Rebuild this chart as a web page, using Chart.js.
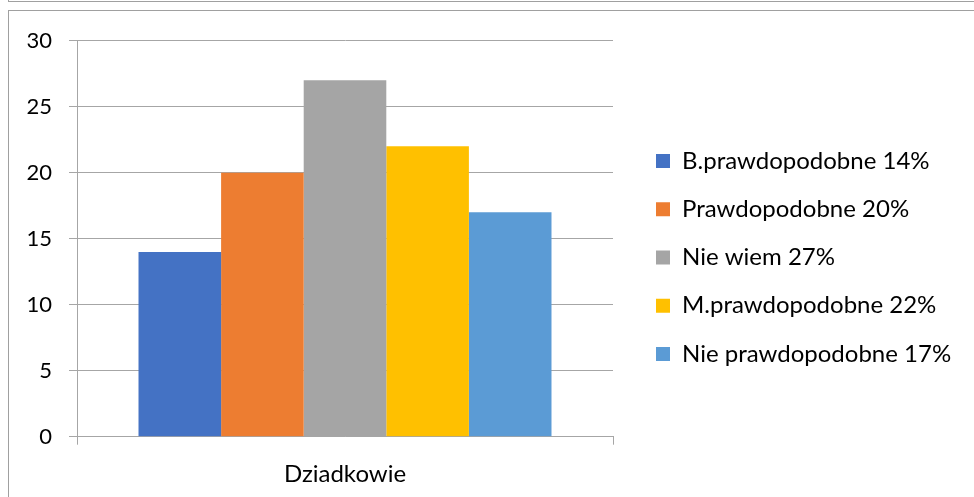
<!DOCTYPE html>
<html lang="pl">
<head>
<meta charset="utf-8">
<title>Dziadkowie</title>
<script src="https://cdn.jsdelivr.net/npm/chart.js@4"></script>
<style>
    html, body { margin: 0; padding: 0; background: #fff; overflow: hidden; }
    .frame-top { position: absolute; left: 8px; top: -20px; width: 1200px; height: 22px; border: 1px solid #a0a0a0; box-sizing: border-box; }
    .frame { position: absolute; left: 8px; top: 10px; width: 1200px; height: 800px; border: 1px solid #a0a0a0; box-sizing: border-box; }
    .chart-wrap { position: absolute; left: 0; top: 0; width: 974px; height: 497px; }
</style>
</head>
<body>
<div class="frame-top"></div>
<div class="frame"></div>
<div class="chart-wrap"><canvas id="chart"></canvas></div>

<script>
// --- data ---
const categories = ['Dziadkowie'];
const seriesLabels = ['B.prawdopodobne 14%', 'Prawdopodobne 20%', 'Nie wiem 27%', 'M.prawdopodobne 22%', 'Nie prawdopodobne 17%'];
const seriesValues = [14, 20, 27, 22, 17];
const seriesColors = ['#4472c4', '#ed7d31', '#a5a5a5', '#ffc000', '#5b9bd5'];
const yTicks = [0, 5, 10, 15, 20, 25, 30];

const gridColor = '#a6a6a6';

Chart.defaults.font.family = 'Lato, "Open Sans", sans-serif';
Chart.defaults.font.size = 22;
Chart.defaults.color = '#000';

// legend gets a fixed width so the plot area keeps its place
const fixedLegend = {
    id: 'fixedLegend',
    beforeLayout(chart) {
        const lg = chart.legend;
        if (lg && !lg._fixed) {
            const fit = lg.fit;
            lg.fit = function () {
                fit.call(this);
                this.width = 342.25;
            };
            lg._fixed = true;
        }
    }
};

new Chart(document.getElementById('chart'), {
    type: 'bar',
    data: {
        labels: categories,
        datasets: seriesLabels.map((label, i) => ({
            label: label,
            data: [seriesValues[i]],
            backgroundColor: seriesColors[i],
            borderWidth: 0,
            categoryPercentage: 0.7705,
            barPercentage: 1
        }))
    },
    options: {
        responsive: true,
        maintainAspectRatio: false,
        animation: false,
        layout: { padding: { top: 40.7, left: 0, right: 0, bottom: 0 } },
        plugins: {
            tooltip: { enabled: false },
            legend: {
                position: 'right',
                align: 'start',
                title: { display: true, text: '', padding: { top: 74.05, bottom: 0 }, font: { size: 10, lineHeight: 1 } },
                labels: {
                    boxWidth: 14,
                    boxHeight: 14,
                    padding: 24.25,
                    font: { size: 24 },
                    color: '#000'
                }
            }
        },
        scales: {
            x: {
                grid: { display: true, drawOnChartArea: false, drawTicks: true, tickLength: 8, color: gridColor, offset: true },
                border: { display: true, color: gridColor, width: 1 },
                ticks: { padding: 14.9, font: { size: 24 } },
                afterFit: s => { s.height = 60.3; }
            },
            y: {
                min: 0,
                max: 30,
                afterBuildTicks: s => { s.ticks = yTicks.map(v => ({ value: v })); },
                grid: { color: gridColor, tickLength: 8, lineWidth: 1 },
                border: { display: true, color: gridColor, width: 1 },
                ticks: { padding: 17, font: { size: 22 } },
                afterFit: s => { s.width = 77; }
            },
            // empty gap between plot and legend
            gap: {
                position: 'right',
                display: true,
                grid: { display: false },
                border: { display: false },
                ticks: { display: false },
                afterFit: s => { s.width = 18.75; }
            }
        }
    },
    plugins: [fixedLegend]
});
</script>
</body>
</html>
